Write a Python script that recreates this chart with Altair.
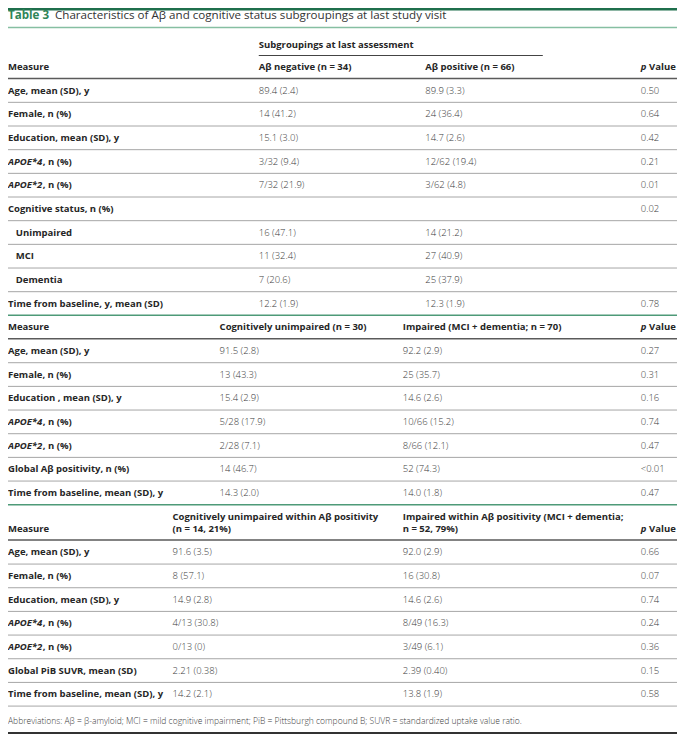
import altair as alt
import pandas as pd

# ---------------- data ----------------
title_lead = "Table 3"
title_text = "Characteristics of Aβ and cognitive status subgroupings at last study visit"

s1_group = "Subgroupings at last assessment"
s1_head = ["Measure", "Aβ negative (n = 34)", "Aβ positive (n = 66)", "p Value"]
s1_labels = ["Age, mean (SD), y", "Female, n (%)", "Education, mean (SD), y", "APOE*4, n (%)",
             "APOE*2, n (%)", "Cognitive status, n (%)", "Unimpaired", "MCI", "Dementia",
             "Time from baseline, y, mean (SD)"]
s1_indent = [0, 0, 0, 0, 0, 0, 1, 1, 1, 0]
s1_c1 = ["89.4 (2.4)", "14 (41.2)", "15.1 (3.0)", "3/32 (9.4)", "7/32 (21.9)", "",
         "16 (47.1)", "11 (32.4)", "7 (20.6)", "12.2 (1.9)"]
s1_c2 = ["89.9 (3.3)", "24 (36.4)", "14.7 (2.6)", "12/62 (19.4)", "3/62 (4.8)", "",
         "14 (21.2)", "27 (40.9)", "25 (37.9)", "12.3 (1.9)"]
s1_p = ["0.50", "0.64", "0.42", "0.21", "0.01", "0.02", "", "", "", "0.78"]

s2_head = ["Measure", "Cognitively unimpaired (n = 30)", "Impaired (MCI + dementia; n = 70)", "p Value"]
s2_labels = ["Age, mean (SD), y", "Female, n (%)", "Education , mean (SD), y", "APOE*4, n (%)",
             "APOE*2, n (%)", "Global Aβ positivity, n (%)", "Time from baseline, mean (SD), y"]
s2_c1 = ["91.5 (2.8)", "13 (43.3)", "15.4 (2.9)", "5/28 (17.9)", "2/28 (7.1)", "14 (46.7)", "14.3 (2.0)"]
s2_c2 = ["92.2 (2.9)", "25 (35.7)", "14.6 (2.6)", "10/66 (15.2)", "8/66 (12.1)", "52 (74.3)", "14.0 (1.8)"]
s2_p = ["0.27", "0.31", "0.16", "0.74", "0.47", "<0.01", "0.47"]

s3_head = ["Measure",
           ["Cognitively unimpaired within Aβ positivity", "(n = 14, 21%)"],
           ["Impaired within Aβ positivity (MCI + dementia;", "n = 52, 79%)"],
           "p Value"]
s3_labels = ["Age, mean (SD), y", "Female, n (%)", "Education, mean (SD), y", "APOE*4, n (%)",
             "APOE*2, n (%)", "Global PiB SUVR, mean (SD)", "Time from baseline, mean (SD), y"]
s3_c1 = ["91.6 (3.5)", "8 (57.1)", "14.9 (2.8)", "4/13 (30.8)", "0/13 (0)", "2.21 (0.38)", "14.2 (2.1)"]
s3_c2 = ["92.0 (2.9)", "16 (30.8)", "14.6 (2.6)", "8/49 (16.3)", "3/49 (6.1)", "2.39 (0.40)", "13.8 (1.9)"]
s3_p = ["0.66", "0.07", "0.74", "0.24", "0.36", "0.15", "0.58"]

footnote = ("Abbreviations: Aβ = β-amyloid; MCI = mild cognitive impairment; "
            "PiB = Pittsburgh compound B; SUVR = standardized uptake value ratio.")

# ---------------- layout (reference pixel grid) ----------------
X0 = 2
PX = 648
PITCH = 23.67
ITAL_W = 35.5   # width of the italic APOE*n prefix
P_W = 8.5       # width of italic "p" plus space

texts = []
rules = []


def t(text, x, y, kind):
    if text:
        texts.append(dict(text=text, x=x, y=y, kind=kind))


def label(text, x, y):
    if text.startswith("APOE*"):
        it = text.split(",")[0]
        t(it, x, y, "label_it")
        t(text[len(it):], x + ITAL_W, y, "label")
    else:
        t(text, x, y, "label")


def phead(x, y):
    t("p", x, y, "label_it")
    t("Value", x + P_W, y, "label")


def rule(x1, x2, y, color, w):
    rules.append(dict(x=x1, x2=x2, y=y, color=color, w=w))


GRAY = "#a6a6a6"
DARK = "#5a5a5a"
GREEN = "#4e9a78"

# title
t(title_lead, X0, 15.5, "title_b")
t(title_text, X0 + 48, 15.5, "title")
rule(0, 685, 27.5, "#86bfa2", 1.5)


def section(first_y, cols, labels, c1, c2, p, indent=None):
    ys_ = [first_y + i * PITCH for i in range(len(labels))]
    for i, (lab, a, b, q) in enumerate(zip(labels, c1, c2, p)):
        y = ys_[i]
        ind = 8 if (indent and indent[i]) else 0
        label(lab, X0 + ind, y)
        t(a, cols[0], y, "value")
        t(b, cols[1], y, "value")
        t(q, PX, y, "value")
        if i < len(labels) - 1:
            rule(0, 685, y + PITCH / 2, GRAY, 1)
    return ys_


# section 1
S1 = (258, 428)
t(s1_group, S1[0], 45, "label")
rule(S1[0], 548, 55.5, "#444444", 1)
t(s1_head[0], X0, 67, "label")
t(s1_head[1], S1[0], 67, "label")
t(s1_head[2], S1[1], 67, "label")
phead(PX, 67)
rule(0, 685, 78.5, DARK, 1.5)
y1 = section(90.5, S1, s1_labels, s1_c1, s1_c2, s1_p, s1_indent)
rule(0, 685, y1[-1] + PITCH / 2, GREEN, 1.5)

# section 2
S2 = (218, 405)
h2 = y1[-1] + PITCH
t(s2_head[0], X0, h2, "label")
t(s2_head[1], S2[0], h2, "label")
t(s2_head[2], S2[1], h2, "label")
phead(PX, h2)
rule(0, 685, h2 + 11.5, DARK, 1.5)
y2 = section(h2 + PITCH, S2, s2_labels, s2_c1, s2_c2, s2_p)
rule(0, 685, y2[-1] + PITCH / 2, GREEN, 1.5)

# section 3
S3 = (170, 405)
h3 = y2[-1] + PITCH + 12
t(s3_head[0], X0, h3, "label")
t(s3_head[1][0], S3[0], h3 - 12, "label")
t(s3_head[1][1], S3[0], h3, "label")
t(s3_head[2][0], S3[1], h3 - 12, "label")
t(s3_head[2][1], S3[1], h3, "label")
phead(PX, h3)
rule(0, 685, h3 + 11.5, DARK, 1.5)
y3 = section(h3 + PITCH, S3, s3_labels, s3_c1, s3_c2, s3_p)
rule(0, 685, y3[-1] + PITCH / 2, GRAY, 1)

t(footnote, X0, y3[-1] + 27, "foot")
rule(0, 685, 733, "#333333", 2)

tdf = pd.DataFrame(texts)
rdf = pd.DataFrame(rules)
bar = pd.DataFrame([dict(x=0, x2=685, y=8, y2=10.5)])

xs = alt.Scale(domain=[2, 685], range=[0, 669])
ys = alt.Scale(domain=[8, 734], range=[0, 726])

styles = {
    "label": dict(fontWeight="bold", color="#262626", fontSize=9.5),
    "label_it": dict(fontWeight="bold", fontStyle="italic", color="#262626", fontSize=9.5),
    "value": dict(fontWeight=300, color="#3a3a3a", fontSize=9.5),
    "title_b": dict(fontWeight="bold", color="#2f8558", fontSize=11.6),
    "title": dict(fontWeight="normal", color="#333333", fontSize=11.6),
    "foot": dict(fontWeight=300, color="#404040", fontSize=8.5),
}

layers = [
    alt.Chart(bar).mark_rect(color="#1f6f4c").encode(
        x=alt.X("x:Q", scale=xs, axis=None), x2="x2:Q",
        y=alt.Y("y:Q", scale=ys, axis=None), y2="y2:Q"),
    alt.Chart(rdf).mark_rule().encode(
        x=alt.X("x:Q", scale=xs, axis=None), x2="x2:Q",
        y=alt.Y("y:Q", scale=ys, axis=None),
        color=alt.Color("color:N", scale=None),
        strokeWidth=alt.StrokeWidth("w:Q", scale=None)),
]
for kind, st in styles.items():
    sub = tdf[tdf.kind == kind]
    layers.append(
        alt.Chart(sub).mark_text(align="left", baseline="middle", font="Open Sans", **st).encode(
            x=alt.X("x:Q", scale=xs, axis=None),
            y=alt.Y("y:Q", scale=ys, axis=None),
            text="text:N"))

chart = alt.layer(*layers).properties(
    width=669, height=726, padding=0,
    autosize=alt.AutoSizeParams(type="none"),
    background="white",
).configure_view(stroke=None)

chart.save("out.html", embed_options={"renderer": "svg", "actions": False})
